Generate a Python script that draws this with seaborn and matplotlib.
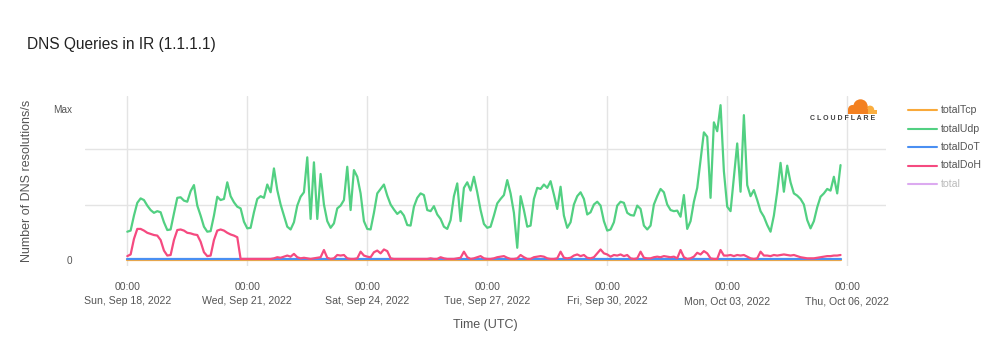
import numpy as np
import pandas as pd
import matplotlib
matplotlib.use("Agg")
import matplotlib.pyplot as plt
import seaborn as sns
from matplotlib.lines import Line2D
from matplotlib.patches import Circle, Rectangle

# ---------------- data (2-hour samples starting Sun, Sep 18 2022 00:00 UTC) ----------------
udp_values = [
    0.51, 0.53, 0.80, 1.03, 1.11, 1.08, 0.98, 0.90, 0.85, 0.88, 0.86, 0.68,   # Sep 18
    0.54, 0.55, 0.84, 1.12, 1.13, 1.07, 1.05, 1.24, 1.35, 0.98, 0.80, 0.60,   # Sep 19
    0.51, 0.52, 0.80, 1.14, 1.08, 1.10, 1.40, 1.15, 1.04, 0.96, 0.93, 0.69,   # Sep 20
    0.57, 0.58, 0.86, 1.10, 1.15, 1.12, 1.36, 1.22, 1.65, 1.26, 1.00, 0.80,   # Sep 21
    0.60, 0.55, 0.68, 0.98, 1.14, 1.22, 1.85, 0.74, 1.76, 0.74, 1.55, 1.00,   # Sep 22
    0.70, 0.58, 0.66, 0.93, 0.98, 1.08, 1.68, 0.90, 1.62, 1.50, 1.20, 0.70,   # Sep 23
    0.56, 0.55, 0.85, 1.20, 1.28, 1.36, 1.16, 1.00, 0.91, 0.83, 0.88, 0.80,   # Sep 24
    0.63, 0.62, 0.96, 1.12, 1.20, 1.17, 0.90, 0.88, 0.97, 0.82, 0.74, 0.60,   # Sep 25
    0.56, 0.72, 1.15, 1.38, 0.70, 1.30, 1.40, 1.25, 1.50, 1.22, 0.90, 0.65,   # Sep 26
    0.58, 0.60, 0.80, 1.02, 1.10, 1.17, 1.44, 1.20, 0.85, 0.22, 1.15, 0.90,   # Sep 27
    0.60, 0.62, 1.10, 1.30, 1.28, 1.36, 1.30, 1.42, 1.18, 0.92, 1.32, 0.80,   # Sep 28
    0.58, 0.68, 1.00, 1.15, 1.22, 1.10, 0.82, 0.86, 1.00, 1.05, 0.98, 0.70,   # Sep 29
    0.53, 0.55, 0.68, 0.98, 1.05, 1.03, 0.85, 0.81, 0.80, 0.98, 0.92, 0.62,   # Sep 30
    0.55, 0.62, 1.00, 1.15, 1.28, 1.22, 1.00, 0.90, 0.88, 0.89, 0.78, 1.17,   # Oct 01
    0.56, 0.70, 1.05, 1.30, 1.80, 2.30, 2.22, 1.12, 2.48, 2.32, 2.79, 1.60,   # Oct 02
    0.96, 0.88, 1.50, 2.10, 1.23, 2.61, 1.35, 1.15, 1.26, 1.08, 0.88, 0.78,   # Oct 03
    0.63, 0.51, 0.80, 1.23, 1.75, 1.23, 1.70, 1.40, 1.20, 1.16, 1.10, 1.00,   # Oct 04
    0.72, 0.57, 0.70, 0.95, 1.14, 1.20, 1.28, 1.25, 1.50, 1.20, 1.71,         # Oct 05
]
doh_values = [
    0.07, 0.10, 0.38, 0.56, 0.56, 0.53, 0.49, 0.47, 0.45, 0.44, 0.36, 0.17,
    0.08, 0.09, 0.36, 0.54, 0.55, 0.53, 0.49, 0.48, 0.46, 0.45, 0.33, 0.14,
    0.07, 0.08, 0.36, 0.53, 0.55, 0.53, 0.49, 0.46, 0.44, 0.41, 0.02, 0.02,
    0.02, 0.02, 0.02, 0.02, 0.02, 0.02, 0.02, 0.02, 0.03, 0.05, 0.04, 0.06,
    0.08, 0.06, 0.11, 0.05, 0.03, 0.04, 0.03, 0.02, 0.03, 0.04, 0.05, 0.18,
    0.04, 0.02, 0.03, 0.09, 0.08, 0.09, 0.03, 0.02, 0.02, 0.03, 0.15, 0.08,
    0.06, 0.05, 0.14, 0.17, 0.12, 0.19, 0.16, 0.03, 0.02, 0.02, 0.02, 0.02,
    0.02, 0.02, 0.02, 0.02, 0.02, 0.02, 0.02, 0.03, 0.02, 0.02, 0.05, 0.03,
    0.02, 0.02, 0.02, 0.03, 0.04, 0.15, 0.05, 0.02, 0.03, 0.05, 0.07, 0.03,
    0.02, 0.02, 0.03, 0.05, 0.06, 0.07, 0.04, 0.02, 0.02, 0.03, 0.09, 0.05,
    0.02, 0.02, 0.05, 0.06, 0.07, 0.06, 0.03, 0.02, 0.02, 0.03, 0.15, 0.04,
    0.03, 0.04, 0.08, 0.10, 0.07, 0.09, 0.04, 0.03, 0.05, 0.12, 0.19, 0.12,
    0.10, 0.06, 0.09, 0.08, 0.10, 0.07, 0.09, 0.03, 0.02, 0.03, 0.15, 0.04,
    0.03, 0.03, 0.05, 0.06, 0.05, 0.07, 0.06, 0.05, 0.06, 0.03, 0.18, 0.05,
    0.02, 0.03, 0.06, 0.13, 0.10, 0.16, 0.12, 0.03, 0.02, 0.02, 0.18, 0.08,
    0.08, 0.09, 0.07, 0.09, 0.08, 0.09, 0.06, 0.03, 0.02, 0.03, 0.15, 0.08,
    0.08, 0.07, 0.09, 0.08, 0.09, 0.10, 0.09, 0.08, 0.09, 0.07, 0.05, 0.04,
    0.03, 0.03, 0.03, 0.04, 0.05, 0.06, 0.07, 0.07, 0.08, 0.08, 0.09,
]
# DoT and TCP sit flat on the baseline (one reading per day + the last sample)
dot_values = [0.01, 0.01, 0.01, 0.01, 0.01, 0.01, 0.01, 0.01, 0.01, 0.01,
              0.01, 0.01, 0.01, 0.01, 0.01, 0.01, 0.01, 0.01, 0.01]
tcp_values = [0.0, 0.0, 0.0, 0.0, 0.0, 0.0, 0.0, 0.0, 0.0, 0.0,
              0.0, 0.0, 0.0, 0.0, 0.0, 0.0, 0.0, 0.0, 0.0]

series_names = ["totalTcp", "totalUdp", "totalDoT", "totalDoH", "total"]
series_colors = ["#f9a93a", "#52d082", "#4a8ff2", "#f54a80", "#dcaaf0"]
y_tick_labels = ["0", "Max"]
title_text = "DNS Queries in IR (1.1.1.1)"
x_title = "Time (UTC)"
y_title = "Number of DNS resolutions/s"

# ---------------- frame ----------------
t2h = pd.date_range("2022-09-18 00:00", periods=len(udp_values), freq="2h")
tday = list(pd.date_range("2022-09-18", periods=len(dot_values) - 1, freq="D")) + [t2h[-1]]

df = pd.concat([
    pd.DataFrame({"time": tday, "value": tcp_values, "series": "totalTcp"}),
    pd.DataFrame({"time": t2h, "value": udp_values, "series": "totalUdp"}),
    pd.DataFrame({"time": tday, "value": dot_values, "series": "totalDoT"}),
    pd.DataFrame({"time": t2h, "value": doh_values, "series": "totalDoH"}),
], ignore_index=True)

sns.set_style("white")
plt.rcParams["font.family"] = ["Liberation Sans", "DejaVu Sans"]

W, H = 1000, 346
PT = 0.72  # points per pixel at dpi 100
fig = plt.figure(figsize=(W / 100, H / 100), dpi=100)

# axes: x 85..886 px, y top 96 px, value 0 at 260 px, 55.5 px per unit
unit = 55.5
ybot = -0.1
ax_top, ax_bottom = 96, 260 - ybot * unit
ax = fig.add_axes([85 / W, (H - ax_bottom) / H, (886 - 85) / W, (ax_bottom - ax_top) / H])
ytop = (260 - ax_top) / unit

palette = dict(zip(series_names[:4], series_colors[:4]))
sns.lineplot(data=df, x="time", y="value", hue="series", hue_order=series_names[:4],
             palette=palette, linewidth=1.6, estimator=None, legend=False, ax=ax)

start = pd.Timestamp("2022-09-18")
ax.set_xlim(start - pd.Timedelta(days=1.0575), start + pd.Timedelta(days=18.97))
ax.set_ylim(ybot, ytop)
ax.set_xlabel("")
ax.set_ylabel("")
for s in ax.spines.values():
    s.set_visible(False)

grid_c = "#e4e4e4"
xticks = pd.date_range("2022-09-18", periods=7, freq="3D")
ax.xaxis.remove_overlapping_locs = False
ax.set_xticks(xticks)
ax.set_xticklabels(["00:00" for d in xticks], va="baseline")
ax.set_xticks(xticks, minor=True)
ax.set_xticklabels([f"{d:%a, %b %d, %Y}" for d in xticks], minor=True, va="baseline")
ax.tick_params(axis="x", which="major", length=3 * PT, width=1, color=grid_c, pad=21.5 * PT,
               labelsize=10.5 * PT, labelcolor="#555555")
ax.tick_params(axis="x", which="minor", length=3 * PT, width=1, color=grid_c, pad=35.5 * PT,
               labelsize=10.5 * PT, labelcolor="#555555")
ax.grid(True, axis="x", which="major", color=grid_c, lw=1)
ax.grid(False, axis="x", which="minor")

ax.set_yticks([0, 2.72])
ax.set_yticklabels(y_tick_labels)
ax.set_yticks([0, 1, 2], minor=True)
ax.tick_params(axis="y", which="both", length=0, pad=13 * PT, labelsize=10 * PT,
               labelcolor="#555555")
ax.grid(True, axis="y", which="minor", color=grid_c, lw=1)
ax.grid(False, axis="y", which="major")
ax.set_axisbelow(True)

# titles
fig.text(27 / W, 1 - 44 / H, title_text, fontsize=15.5 * PT, color="#222222",
         ha="left", va="center")
fig.text(485.5 / W, 1 - 325 / H, x_title, fontsize=12.5 * PT, color="#555555",
         ha="center", va="center")
fig.text(27 / W, 1 - 181 / H, y_title, fontsize=12.5 * PT, color="#555555",
         ha="center", va="center", rotation=90)

# legend (manual, right side)
leg_y = [110, 128.5, 147, 165.5, 184]
for name, col, yy in zip(series_names, series_colors, leg_y):
    fig.add_artist(Line2D([908 / W, 937 / W], [1 - yy / H, 1 - yy / H],
                          color=col, lw=1.5, transform=fig.transFigure))
    fig.text(941 / W, 1 - yy / H, name, fontsize=10.5 * PT, ha="left", va="center",
             color="#bbbbbb" if name == "total" else "#555555")

# Cloudflare mark
fig.text(842.5 / W, 1 - 118.5 / H, "C L O U D F L A R E", fontsize=7 * PT,
         fontweight="bold", color="#404041", ha="center", va="center")
lax = fig.add_axes([843 / W, (H - 114) / H, 34 / W, 15 / H])
lax.set_xlim(0, 34)
lax.set_ylim(0, 15)
lax.axis("off")
dark, light = "#f38020", "#faae40"
lax.add_patch(Circle((27, 4.2), 4.2, color=light, lw=0))
lax.add_patch(Rectangle((24, 0), 9.6, 4.2, color=light, lw=0))
lax.add_patch(Circle((17.5, 7.5), 7.2, color=dark, lw=0))
lax.add_patch(Circle((9.5, 4.5), 4.5, color=dark, lw=0))
lax.add_patch(Rectangle((5, 0), 19.5, 4.6, color=dark, lw=0))

fig.savefig("out.png", dpi=100)
